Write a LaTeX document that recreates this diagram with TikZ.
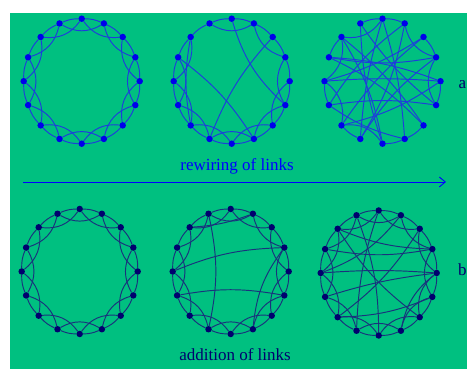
\documentclass[tikz,border=0pt]{standalone}
\usepackage{fontspec}
\setmainfont{Liberation Serif}
\usetikzlibrary{calc,arrows.meta,backgrounds}
\definecolor{bg}{RGB}{0,192,128}
\definecolor{dotA}{RGB}{0,0,235}
\definecolor{linkA}{RGB}{30,60,220}
\definecolor{dotB}{RGB}{0,0,110}
\definecolor{linkB}{RGB}{25,50,125}

\begin{document}
\begin{tikzpicture}[x=1pt,y=1pt,
    dot/.style={circle,fill,inner sep=0pt,minimum size=6.5pt},
    link/.style={line width=0.95pt},
    lbl/.style={font=\fontsize{17}{20}\selectfont,inner sep=0pt,anchor=base}]
    \useasboundingbox (0,0) rectangle (467,369);
    % 六个圆环上的节点
    \foreach \nm/\cx/\cy/\cl in {reg/81.7/287.8/dotA, sw/231.7/287.8/dotA, rnd/382.5/287.8/dotA,
                                 breg/79.7/97.5/dotB, badd/230.7/97.5/dotB, bmore/378.7/96/dotB}{
      \foreach \k in {0,...,15}{
        \node[dot,\cl] (\nm\k) at ({\cx+58*cos(90-22.5*\k)},{\cy+62.5*sin(90-22.5*\k)}) {};
      }
    }
    \begin{scope}[on background layer]
    \fill[bg] (10,0) rectangle (467,356); % 绿色背景
    % 相邻节点之间的连线
    \foreach \nm/\cl in {reg/linkA, sw/linkA, breg/linkB, badd/linkB, bmore/linkB}{
      \foreach \i in {0,...,15}{
        \pgfmathtruncatemacro\j{mod(\i+1,16)}
        \draw[link,\cl] (\nm\i) to[bend left=11] (\nm\j);
      }
    }
    % 隔一个节点的连线
    \foreach \nm/\cl in {reg/linkA, breg/linkB, badd/linkB, bmore/linkB}{
      \foreach \i in {0,...,15}{
        \pgfmathtruncatemacro\j{mod(\i+2,16)}
        \draw[link,\cl] (\nm\i) to[bend right=30] (\nm\j);
      }
    }
    \foreach \i in {1,3,4,5,6,7,8,9,10,11,12,15}{
      \pgfmathtruncatemacro\j{mod(\i+2,16)}
      \draw[link,linkA] (sw\i) to[bend right=30] (sw\j);
    }
    % 重连的边
    \foreach \a/\b/\bd in {13/7/10, 2/9/-10, 0/5/-15, 14/10/-10}
      \draw[link,linkA] (sw\a) to[bend left=\bd] (sw\b);
    % 随机网络
    \foreach \a/\b in {15/0, 0/1, 2/3, 4/5, 6/7, 7/8, 9/10, 11/12, 13/14}
      \draw[link,linkA] (rnd\a) to[bend left=11] (rnd\b);
    \foreach \a/\b in {14/0, 1/3, 3/5, 8/10, 10/12, 12/14}
      \draw[link,linkA] (rnd\a) to[bend right=30] (rnd\b);
    \foreach \a/\b/\bd in {13/3/-10, 13/4/8, 12/4/4, 11/5/8, 15/8/-8, 0/7/6, 1/9/10, 2/10/-8,
                           14/6/8, 10/4/-10, 9/3/10, 12/2/-8, 11/1/10, 6/13/-10, 5/15/8, 8/14/-10, 7/11/10, 0/9/-6}
      \draw[link,linkA] (rnd\a) to[bend left=\bd] (rnd\b);
    % 添加的边
    \foreach \a/\b/\bd in {12/3/10, 11/5/10, 15/9/12, 3/7/-15, 14/1/-8}
      \draw[link,linkB] (badd\a) to[bend left=\bd] (badd\b);
    \foreach \a/\b/\bd in {12/4/4, 13/3/-10, 11/4/5, 14/3/-10, 15/8/10, 1/12/15, 2/10/10,
                           4/7/-20, 6/14/10, 0/9/-8, 5/10/10}
      \draw[link,linkB] (bmore\a) to[bend left=\bd] (bmore\b);
    \end{scope}
    % 箭头和文字
    \coordinate (s) at (23,187);
    \coordinate (e) at (446,187);
    \draw[line width=0.9pt,blue,-{Straight Barb[length=6pt,width=10pt]}] (s) -- (e);
    \node[lbl,blue] (rew) at (237,198) {rewiring of links};
    \node[lbl,dotB] (add) at (235,8.5) {addition of links};
    \node[lbl,dotB,anchor=base west] (la) at (458.5,280) {a};
    \node[lbl,dotB,anchor=base west] (lb) at (458,93) {b};
\end{tikzpicture}
\end{document}
